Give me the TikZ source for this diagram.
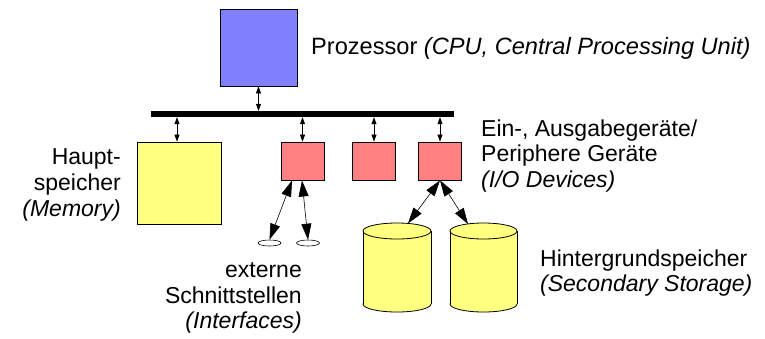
\documentclass[tikz,border=0pt]{standalone}
\usepackage{fontspec}
\setmainfont{Liberation Sans}
\usetikzlibrary{arrows.meta,shapes.geometric}
\definecolor{cpublue}{HTML}{8080FF}
\definecolor{iored}{HTML}{FF8080}
\definecolor{memyellow}{HTML}{FFFF80}
\begin{document}
\begin{tikzpicture}[x=1pt,y=-1pt,
  box/.style={draw=black,line width=0.8pt,inner sep=0pt,minimum width=#1,minimum height=#1},
  lbl/.style={inner sep=0pt,font=\fontsize{23}{26}\selectfont},
  smallarr/.style={line width=0.6pt,{Triangle[length=7pt,width=5pt]}-{Triangle[length=7pt,width=5pt]}},
  bigarr/.style={line width=0.6pt,{Triangle[length=16pt,width=10pt]}-{Triangle[length=16pt,width=10pt]}},
  cylfill/.style={fill=memyellow},
  cylline/.style={draw=black,line width=0.8pt}]
\useasboundingbox (0,0) rectangle (765,338);

% CPU
\node[box=77pt,fill=cpublue] (cpu) at (258.5,47.5) {};
% bus
\node[fill=black,inner sep=0pt,minimum width=303pt,minimum height=6pt] (bus) at (302.5,114) {};
% memory
\node[draw=black,line width=0.8pt,inner sep=0pt,minimum width=84pt,minimum height=82pt,fill=memyellow] (mem) at (179,183) {};
% I/O boxes
\node[draw=black,line width=0.8pt,inner sep=0pt,minimum width=43pt,minimum height=38pt,fill=iored] (io1) at (302.5,161) {};
\node[draw=black,line width=0.8pt,inner sep=0pt,minimum width=43pt,minimum height=38pt,fill=iored] (io2) at (374,161) {};
\node[draw=black,line width=0.8pt,inner sep=0pt,minimum width=43pt,minimum height=38pt,fill=iored] (io3) at (440,161) {};

% bus arrows
\draw[smallarr] (cpu.south) -- (cpu.south |- bus.north);
\draw[smallarr] (bus.south -| 177,0) -- (177,0 |- mem.north);
\draw[smallarr] (io1.north |- bus.south) -- (io1.north);
\draw[smallarr] (io2.north |- bus.south) -- (io2.north);
\draw[smallarr] (io3.north |- bus.south) -- (io3.north);

% external interfaces
\node[draw=black,line width=0.6pt,fill=white,ellipse,inner sep=0pt,minimum width=23pt,minimum height=6pt] (ext1) at (269.5,243) {};
\node[draw=black,line width=0.6pt,fill=white,ellipse,inner sep=0pt,minimum width=23pt,minimum height=6pt] (ext2) at (308,243) {};
\coordinate (io1a) at (292,180.5);
\coordinate (io1b) at (302,180.5);
\draw[bigarr] (io1a) -- (ext1.north);
\draw[bigarr] (io1b) -- (ext2.north);

% cylinders
\filldraw[cylfill,cylline] (397,304) ellipse (34 and 8);
\fill[cylfill] (363,231) rectangle (431,304);
\draw[cylline] (363,231) -- (363,304) (431,231) -- (431,304);
\filldraw[cylfill,cylline] (397,231) ellipse (34 and 8);

\filldraw[cylfill,cylline] (483.5,304) ellipse (33.5 and 8);
\fill[cylfill] (450,231) rectangle (517,304);
\draw[cylline] (450,231) -- (450,304) (517,231) -- (517,304);
\filldraw[cylfill,cylline] (483.5,231) ellipse (33.5 and 8);

\coordinate (cyl1top) at (408,223.4);
\coordinate (cyl2top) at (468,224);
\draw[bigarr] (io3.south) -- (cyl1top);
\draw[bigarr] (io3.south) -- (cyl2top);

% labels
\node[lbl,anchor=base west,font=\fontsize{23.6}{26}\selectfont] (tcpu) at (311,54.5) {Prozessor \textit{(CPU, Central Processing Unit)}};
\node[lbl,anchor=base west] (tio1) at (481,136) {Ein-, Ausgabegeräte/};
\node[lbl,anchor=base west] (tio2) at (481,161.5) {Periphere Geräte};
\node[lbl,anchor=base west] (tio3) at (481,187) {\textit{(I/O Devices)}};
\node[lbl,anchor=base east] (tmem1) at (121,164.5) {Haupt-};
\node[lbl,anchor=base east] (tmem2) at (121,190.5) {speicher};
\node[lbl,anchor=base east] (tmem3) at (121,216.5) {\textit{(Memory)}};
\node[lbl,anchor=base east] (text1) at (302,277.5) {externe};
\node[lbl,anchor=base east] (text2) at (302,303) {Schnittstellen};
\node[lbl,anchor=base east] (text3) at (302,328.5) {\textit{(Interfaces)}};
\node[lbl,anchor=base west] (tsec1) at (540,266) {Hintergrundspeicher};
\node[lbl,anchor=base west] (tsec2) at (540,291.5) {\textit{(Secondary Storage)}};
\end{tikzpicture}
\end{document}
